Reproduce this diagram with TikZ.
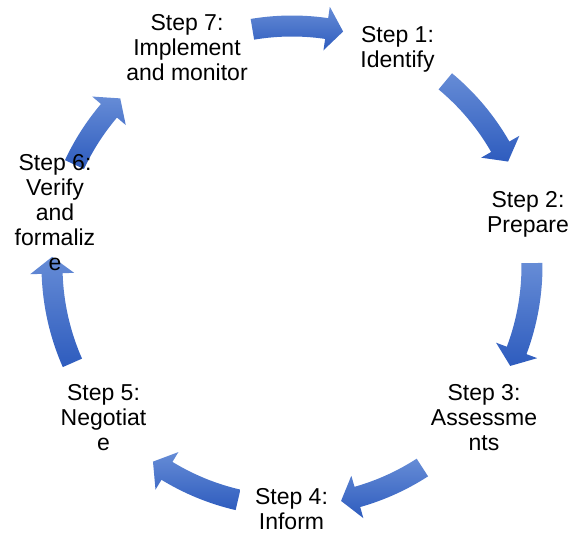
\documentclass[tikz,border=0pt]{standalone}
\usepackage{fontspec}
\setmainfont{Liberation Sans}
\usetikzlibrary{calc}
\definecolor{arrowtop}{RGB}{102,140,214}
\definecolor{arrowbot}{RGB}{46,92,190}
\tikzset{cyc/.style={top color=arrowtop, bottom color=arrowbot, draw=none}}
% curved block arrow on the cycle: #1 tail angle, #2 tip angle
\newcommand{\cycarrow}[2]{%
  \path[cyc] (#1:250.5pt) arc[start angle=#1, end angle={#2+4}, radius=250.5pt]
    -- ({#2+4}:262pt) -- (#2:240pt) -- ({#2+4}:218pt) -- ({#2+4}:229.5pt)
    arc[start angle={#2+4}, end angle=#1, radius=229.5pt] -- cycle;}

\begin{document}
\begin{tikzpicture}[x=1pt,y=1pt,every node/.style={font=\fontsize{23}{25}\selectfont, align=center, anchor=base}]
          \useasboundingbox (-292,-267) rectangle (293,266);

          \cycarrow{99.5}{77.7}
          \cycarrow{50.3}{25.8}
          \cycarrow{0.7}{-24.6}
          \cycarrow{-57.1}{-78.2}
          \cycarrow{-103}{-125.4}
          \cycarrow{-156.2}{-182.2}
          \cycarrow{155}{135.7}

          % base = baseline of the last line
          \node (Identify) at (105.5,198) {Step 1:\\Identify};
          \node (Prepare) at (236,34) {Step 2:\\Prepare};
          \node (Assess) at (192,-184) {Step 3:\\Assessme\\nts};
          \node (Inform) at (-0.5,-263) {Step 4:\\Inform};
          \node (Negotiate) at (-188.5,-184) {Step 5:\\Negotiat\\e};
          \node (Verify) at (-237,-4) {Step 6:\\Verify\\and\\formaliz\\e};
          \node (Implement) at (-105,185) {Step 7:\\Implement\\and monitor};
        \end{tikzpicture}
\end{document}
